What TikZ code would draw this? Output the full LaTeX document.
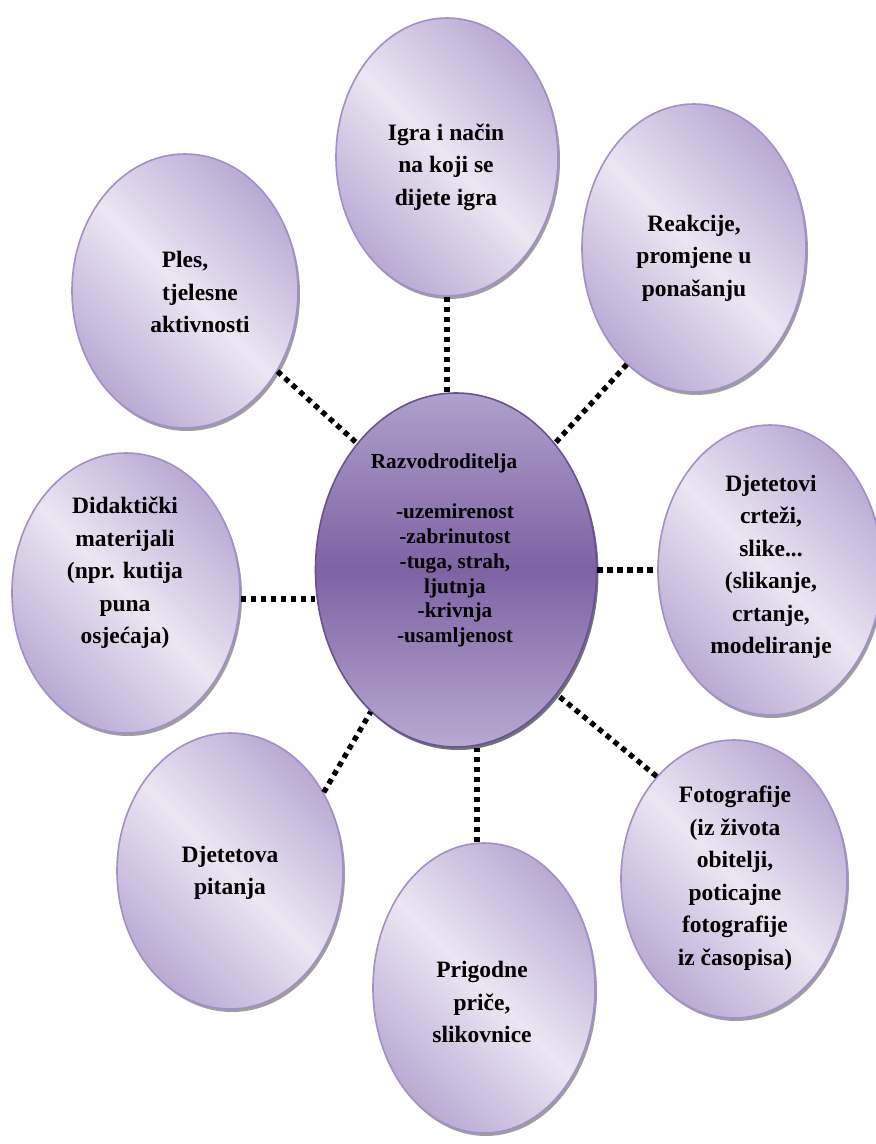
\documentclass[tikz,border=0pt]{standalone}
\usepackage{fontspec}
\setmainfont{Liberation Serif}
\usetikzlibrary{shapes.geometric,shadows}
\definecolor{ol}{HTML}{EBE6F2}
\definecolor{od}{HTML}{BAAAD3}
\definecolor{ob}{HTML}{A28ECA}
\definecolor{ct}{HTML}{AFA0CB}
\definecolor{cm}{HTML}{7E62A4}
\definecolor{cbd}{HTML}{6B5096}
\tikzset{
  outer/.style={ellipse, draw=ob, line width=1.6pt, inner sep=0pt,
    top color=od, bottom color=od, middle color=ol, shading angle=-45,
    general shadow={fill=black!38, shadow xshift=2pt, shadow yshift=-3pt}},
  central/.style={ellipse, draw=cbd, line width=1.6pt, inner sep=0pt,
    top color=ct, bottom color=ct!90!white, middle color=cm,
    general shadow={fill=black!55, shadow xshift=2pt, shadow yshift=-3pt}},
  otext/.style={align=center, font=\bfseries\fontsize{23.5}{32.5}\selectfont, inner sep=0pt},
  ctext/.style={align=center, font=\bfseries\fontsize{21.3}{24.8}\selectfont, inner sep=0pt},
  conn/.style={line width=5.3pt, dash pattern=on 5.3pt off 4.7pt, black}
}
\begin{document}
\begin{tikzpicture}[x=1pt,y=-1pt]
\useasboundingbox[fill=white] (0,0) rectangle (876,1144);
% ellipses
\node[outer, minimum width=222pt, minimum height=278pt] (igra) at (447,157) {};
\node[outer, minimum width=224pt, minimum height=288pt] (rea) at (694,248) {};
\node[outer, minimum width=226pt, minimum height=274pt] (ples) at (185,291) {};
\node[outer, minimum width=228pt, minimum height=280pt] (did) at (126,593) {};
\node[outer, minimum width=224pt, minimum height=290pt] (crt) at (770,570) {};
\node[outer, minimum width=226pt, minimum height=276pt] (pit) at (230,871) {};
\node[outer, minimum width=222pt, minimum height=290pt] (pri) at (484,988) {};
\node[outer, minimum width=226pt, minimum height=278pt] (fot) at (734,879) {};
\node[central, minimum width=281pt, minimum height=354pt] (c) at (456,570) {};
% texts
\node[otext] (tigra) at (446,167) {Igra i način\\na koji se\\dijete igra};
\node[otext] (trea) at (694,258) {Reakcije,\\promjene u\\ponašanju};
\node[otext] (tples) at (200,292) {Ples,\hspace*{30pt}\\tjelesne\\aktivnosti};
\node[otext] (tdid) at (125,573) {Didaktički\\materijali\\(npr. kutija\\puna\\osjećaja)};
\node[otext] (tcrt) at (771,567) {Djetetovi\\crteži,\\slike...\\(slikanje,\\crtanje,\\modeliranje};
\node[otext] (tpit) at (230,873) {Djetetova\\pitanja};
\node[otext] (tpri) at (482,1002) {Prigodne\\priče,\\slikovnice};
\node[otext] (tfot) at (735,878) {Fotografije\\(iz života\\obitelji,\\poticajne\\fotografije\\iz časopisa)};
\node[ctext] (ttitle) at (444,463) {Razvodroditelja};
\node[ctext] (titems) at (455,575.5) {-uzemirenost\\-zabrinutost\\-tuga, strah,\\ljutnja\\-krivnja\\-usamljenost};
% connectors
\draw[conn] (igra.south) -- (igra.south |- c.north);
\draw[conn] (rea.-120.7) -- (c.52.3);
\draw[conn] (ples.-41) -- (c.128.7);
\draw[conn] ([yshift=-6pt]did.east) -- ([yshift=-6pt]did.east -| c.west);
\draw[conn] (c.east) -- (c.east -| crt.west);
\draw[conn] (pit.40.8) -- (c.-121);
\draw[conn] ([xshift=-7pt]pri.north) -- ([xshift=-7pt]pri.north |- c.south);
\draw[conn] (fot.127) -- (c.-51.7);
\end{tikzpicture}
\end{document}
